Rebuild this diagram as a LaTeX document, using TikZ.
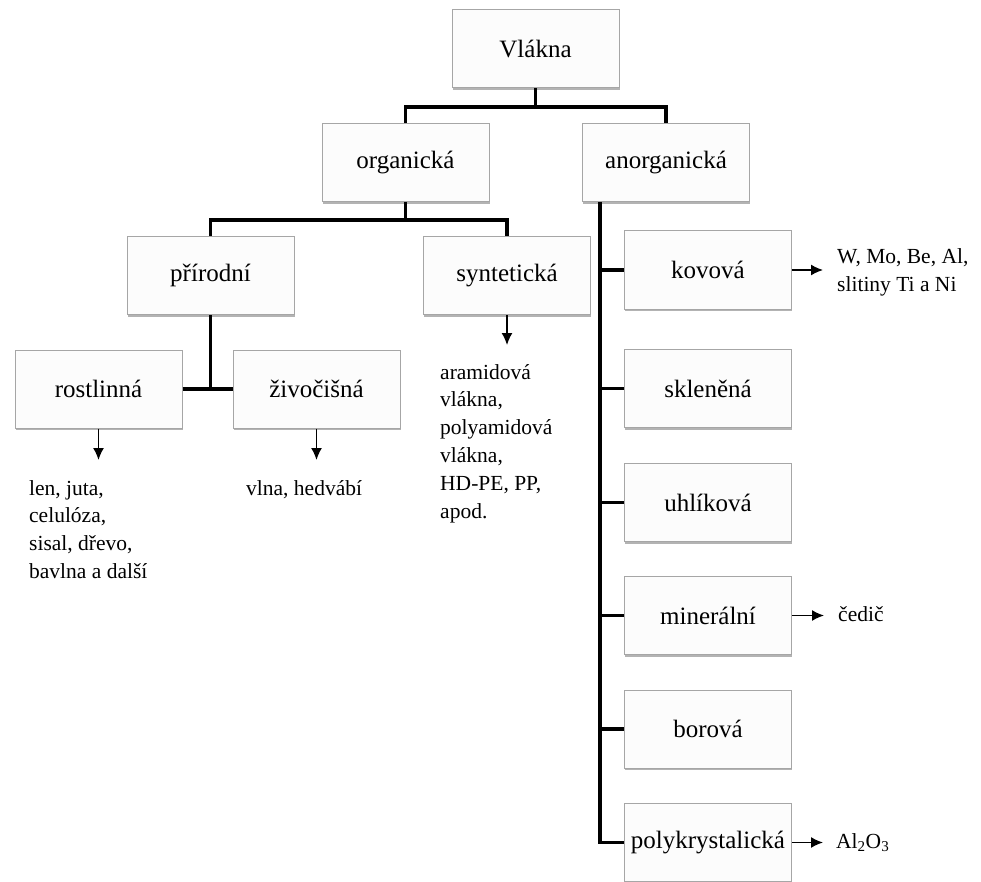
\documentclass[tikz,border=0pt]{standalone}
\usepackage{fontspec}
\setmainfont{Liberation Serif}
\usetikzlibrary{arrows.meta,shadows}
\definecolor{boxfill}{HTML}{FCFCFC}
\definecolor{boxline}{HTML}{A6A6A6}
\begin{document}
\begin{tikzpicture}[x=1pt,y=-1pt,
  box/.style={draw=boxline,line width=1pt,fill=boxfill,minimum width=167pt,minimum height=78pt,
    inner sep=0pt,font=\fontsize{25}{30}\selectfont,
    drop shadow={shadow xshift=0.8pt,shadow yshift=-2.4pt,fill=black!50,opacity=0.6}},
  bus/.style={line width=3.6pt,line cap=butt},
  pointer/.style={line width=1.5pt,-{Latex[length=12pt,width=11pt]}},
  leaf/.style={inner sep=0pt,align=left,font=\fontsize{21.5}{27.8}\selectfont}]
\useasboundingbox (0,0) rectangle (981,882);
% boxes
\node[box] (V) at (535.5,49) {Vlákna};
\node[box] (org) at (405.5,162.5) {organická};
\node[box] (anorg) at (666,162.5) {anorganická};
\node[box] (prir) at (210.5,275.5) {přírodní};
\node[box] (synt) at (507,275.5) {syntetická};
\node[box] (rost) at (98.5,389) {rostlinná};
\node[box] (ziv) at (316.5,389) {živočišná};
\node[box] (kov) at (708,270) {kovová};
\node[box] (skl) at (708,388.5) {skleněná};
\node[box] (uhl) at (708,502.5) {uhlíková};
\node[box] (min) at (708,615.5) {minerální};
\node[box] (bor) at (708,729) {borová};
\node[box] (poly) at (708,842.5) {polykrystalická};
% tree connectors
\coordinate (b1) at (535.5,107);
\draw[bus] (V.south) -- (b1);
\draw[bus] (org.north) |- (b1) -| (anorg.north);
\coordinate (b2) at (405.5,220);
\draw[bus] (org.south) -- (b2);
\draw[bus] (prir.north) |- (b2) -| (synt.north);
\coordinate (b3) at (210.5,389);
\draw[bus] (prir.south) -- (b3);
\draw[bus] (rost.east) -- (ziv.west);
\coordinate (a0) at (600,202);
\draw[bus] (a0) |- (poly.west);
\draw[bus] (kov.west) -- (kov.west -| a0);
\draw[bus] (skl.west) -- (skl.west -| a0);
\draw[bus] (uhl.west) -- (uhl.west -| a0);
\draw[bus] (min.west) -- (min.west -| a0);
\draw[bus] (bor.west) -- (bor.west -| a0);
% leaf texts
\node[leaf,anchor=north west] (lrost) at (29,480) {len, juta,\\celulóza,\\sisal, dřevo,\\bavlna a další};
\node[leaf,anchor=north west] (lziv) at (246,480) {vlna, hedvábí};
\node[leaf,anchor=north west] (lsynt) at (440,364) {aramidová\\vlákna,\\polyamidová\\vlákna,\\HD-PE, PP,\\apod.};
\node[leaf,anchor=west] (lkov) at (837,272) {W, Mo, Be, Al,\\slitiny Ti a Ni};
\node[leaf,anchor=west] (lmin) at (838,614) {čedič};
\node[leaf,anchor=west] (lpoly) at (836,843) {Al\textsubscript{2}O\textsubscript{3}};
% pointers
\coordinate (p1) at (98.5,460);
\coordinate (p2) at (316.5,460);
\coordinate (p3) at (507,345);
\coordinate (p4) at (823,270);
\coordinate (p5) at (824,615.5);
\coordinate (p6) at (823,842.5);
\draw[pointer] (rost.south) -- (p1);
\draw[pointer] (ziv.south) -- (p2);
\draw[pointer] (synt.south) -- (p3);
\draw[pointer] (kov.east) -- (p4);
\draw[pointer] (min.east) -- (p5);
\draw[pointer] (poly.east) -- (p6);
\end{tikzpicture}
\end{document}
